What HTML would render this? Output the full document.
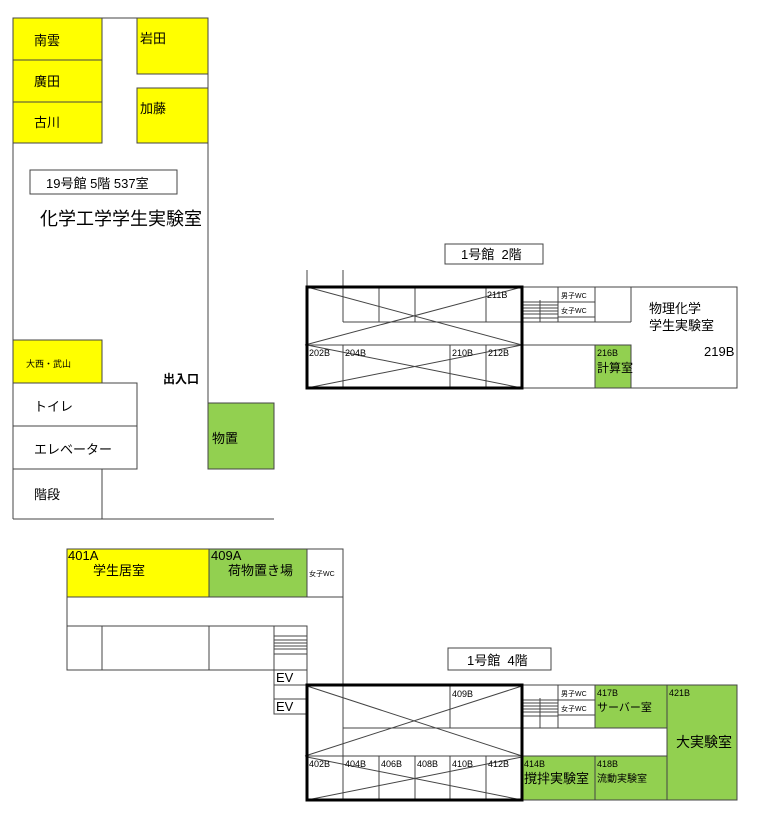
<!DOCTYPE html>
<html><head><meta charset="utf-8"><style>
body{margin:0;background:#fff}
text{font-family:"Liberation Sans","Noto Sans CJK JP",sans-serif;fill:#000}
</style></head><body>
<svg width="757" height="823" xmlns="http://www.w3.org/2000/svg">
<g stroke="#444" stroke-width="1" fill="none">
<!-- 19号館 -->
<rect x="13" y="18" width="89" height="42" fill="#ffff00"/>
<rect x="13" y="60" width="89" height="42" fill="#ffff00"/>
<rect x="13" y="102" width="89" height="41" fill="#ffff00"/>
<rect x="137" y="18" width="71" height="56" fill="#ffff00"/>
<rect x="137" y="88" width="71" height="55" fill="#ffff00"/>
<line x1="102" y1="18" x2="137" y2="18"/>
<line x1="13" y1="143" x2="13" y2="519"/>
<line x1="208" y1="18" x2="208" y2="403"/>
<rect x="30" y="170" width="147" height="24" fill="#fff"/>
<rect x="13" y="340" width="89" height="43" fill="#ffff00"/>
<rect x="13" y="383" width="124" height="43" fill="#fff"/>
<rect x="13" y="426" width="124" height="43" fill="#fff"/>
<line x1="102" y1="469" x2="102" y2="519"/>
<line x1="13" y1="519" x2="274" y2="519"/>
<rect x="208" y="403" width="66" height="66" fill="#92d050"/>

<!-- 1号館2階 -->
<rect x="445" y="244" width="98" height="20" fill="#fff"/>
<line x1="307" y1="270" x2="307" y2="287"/>
<line x1="343" y1="270" x2="343" y2="287"/>
<line x1="343" y1="287" x2="343" y2="322"/>
<line x1="379" y1="287" x2="379" y2="322"/>
<line x1="415" y1="287" x2="415" y2="322"/>
<line x1="486" y1="287" x2="486" y2="322"/>
<line x1="343" y1="322" x2="522" y2="322"/>
<line x1="307" y1="345" x2="522" y2="345"/>
<line x1="343" y1="345" x2="343" y2="388"/>
<line x1="450" y1="345" x2="450" y2="388"/>
<line x1="486" y1="345" x2="486" y2="388"/>
<line x1="307" y1="287" x2="522" y2="345"/>
<line x1="305" y1="345" x2="522" y2="287"/>
<line x1="307" y1="345" x2="522" y2="388"/>
<line x1="307" y1="388" x2="522" y2="345"/>
<rect x="522" y="287" width="215" height="101"/>
<line x1="522" y1="322" x2="631" y2="322"/>
<line x1="522" y1="345" x2="631" y2="345"/>
<line x1="631" y1="287" x2="631" y2="322"/>
<line x1="558" y1="287" x2="558" y2="322"/>
<line x1="595" y1="287" x2="595" y2="322"/>
<line x1="558" y1="302" x2="595" y2="302"/>
<line x1="558" y1="317" x2="595" y2="317"/>
<line x1="522" y1="302" x2="558" y2="302"/><line x1="522" y1="305" x2="558" y2="305"/>
<line x1="522" y1="308" x2="558" y2="308"/><line x1="522" y1="311" x2="558" y2="311"/>
<line x1="522" y1="314" x2="558" y2="314"/><line x1="522" y1="318" x2="558" y2="318"/>
<line x1="540" y1="300" x2="540" y2="322"/>
<rect x="595" y="345" width="36" height="43" fill="#92d050"/>
<rect x="307" y="287" width="215" height="101" stroke="#000" stroke-width="3"/>

<!-- 4階 left -->
<rect x="67" y="549" width="142" height="48" fill="#ffff00"/>
<rect x="209" y="549" width="98" height="48" fill="#92d050"/>
<rect x="307" y="549" width="36" height="48" fill="#fff"/>
<line x1="67" y1="597" x2="67" y2="626"/>
<line x1="343" y1="597" x2="343" y2="685"/>
<rect x="67" y="626" width="207" height="44"/>
<line x1="102" y1="626" x2="102" y2="670"/>
<line x1="209" y1="626" x2="209" y2="670"/>
<rect x="274" y="626" width="33" height="44"/>
<line x1="274" y1="636" x2="307" y2="636"/><line x1="274" y1="640" x2="307" y2="640"/>
<line x1="274" y1="643" x2="307" y2="643"/><line x1="274" y1="646" x2="307" y2="646"/>
<line x1="274" y1="649" x2="307" y2="649"/><line x1="274" y1="654" x2="307" y2="654"/>
<rect x="274" y="670" width="33" height="15"/>
<rect x="274" y="685" width="33" height="14"/>
<rect x="274" y="699" width="33" height="15"/>

<!-- 4階 1号館 -->
<rect x="448" y="648" width="103" height="22" fill="#fff"/>
<line x1="343" y1="685" x2="343" y2="800"/>
<line x1="450" y1="685" x2="450" y2="728"/>
<line x1="343" y1="728" x2="522" y2="728"/>
<line x1="307" y1="756" x2="522" y2="756"/>
<line x1="379" y1="756" x2="379" y2="800"/>
<line x1="415" y1="756" x2="415" y2="800"/>
<line x1="450" y1="756" x2="450" y2="800"/>
<line x1="486" y1="756" x2="486" y2="800"/>
<line x1="307" y1="686" x2="522" y2="756"/>
<line x1="305" y1="756" x2="522" y2="686"/>
<line x1="307" y1="757" x2="522" y2="800"/>
<line x1="307" y1="800" x2="522" y2="757"/>
<rect x="522" y="685" width="215" height="115"/>
<line x1="558" y1="685" x2="558" y2="728"/>
<line x1="540" y1="698" x2="540" y2="728"/>
<line x1="522" y1="728" x2="595" y2="728"/>
<line x1="558" y1="700" x2="595" y2="700"/>
<line x1="558" y1="715" x2="595" y2="715"/>
<line x1="522" y1="700" x2="558" y2="700"/><line x1="522" y1="703" x2="558" y2="703"/>
<line x1="522" y1="706" x2="558" y2="706"/><line x1="522" y1="709" x2="558" y2="709"/>
<line x1="522" y1="712" x2="558" y2="712"/><line x1="522" y1="716" x2="558" y2="716"/>
<rect x="595" y="685" width="72" height="43" fill="#92d050"/>
<rect x="667" y="685" width="70" height="115" fill="#92d050"/>
<rect x="522" y="756" width="73" height="44" fill="#92d050"/>
<rect x="595" y="756" width="72" height="44" fill="#92d050"/>
<rect x="307" y="685" width="215" height="115" stroke="#000" stroke-width="3"/>
</g>

<g font-size="13">
<text x="34" y="45">南雲</text>
<text x="34" y="86">廣田</text>
<text x="34" y="127">古川</text>
<text x="140" y="43">岩田</text>
<text x="140" y="113">加藤</text>
<text x="46" y="188" font-size="13">19号館 5階 537室</text>
<text x="40" y="225" font-size="18">化学工学学生実験室</text>
<text x="26" y="367" font-size="9">大西・武山</text>
<text x="163" y="383" font-size="12" font-weight="bold">出入口</text>
<text x="34" y="411">トイレ</text>
<text x="34" y="454">エレベーター</text>
<text x="34" y="499">階段</text>
<text x="212" y="443">物置</text>

<text x="461" y="259">1号館 &#160;2階</text>
<text x="487" y="298" font-size="9">211B</text>
<text x="309" y="356" font-size="9">202B</text>
<text x="345" y="356" font-size="9">204B</text>
<text x="452" y="356" font-size="9">210B</text>
<text x="488" y="356" font-size="9">212B</text>
<text x="561" y="298" font-size="7">男子WC</text>
<text x="561" y="313" font-size="7">女子WC</text>
<text x="649" y="313" font-size="13">物理化学</text>
<text x="649" y="330" font-size="13">学生実験室</text>
<text x="704" y="356" font-size="13">219B</text>
<text x="597" y="356" font-size="9">216B</text>
<text x="597" y="372" font-size="12">計算室</text>

<text x="68" y="560">401A</text>
<text x="93" y="575">学生居室</text>
<text x="211" y="560">409A</text>
<text x="228" y="575">荷物置き場</text>
<text x="309" y="576" font-size="7">女子WC</text>
<text x="276" y="682">EV</text>
<text x="276" y="711">EV</text>

<text x="467" y="665">1号館 &#160;4階</text>
<text x="452" y="697" font-size="9">409B</text>
<text x="309" y="767" font-size="9">402B</text>
<text x="345" y="767" font-size="9">404B</text>
<text x="381" y="767" font-size="9">406B</text>
<text x="417" y="767" font-size="9">408B</text>
<text x="452" y="767" font-size="9">410B</text>
<text x="488" y="767" font-size="9">412B</text>
<text x="561" y="696" font-size="7">男子WC</text>
<text x="561" y="711" font-size="7">女子WC</text>
<text x="597" y="696" font-size="9">417B</text>
<text x="597" y="711" font-size="11">サーバー室</text>
<text x="669" y="696" font-size="9">421B</text>
<text x="676" y="747" font-size="14">大実験室</text>
<text x="524" y="767" font-size="9">414B</text>
<text x="524" y="783" font-size="13">撹拌実験室</text>
<text x="597" y="767" font-size="9">418B</text>
<text x="597" y="782" font-size="10">流動実験室</text>
</g>
</svg>
</body></html>
